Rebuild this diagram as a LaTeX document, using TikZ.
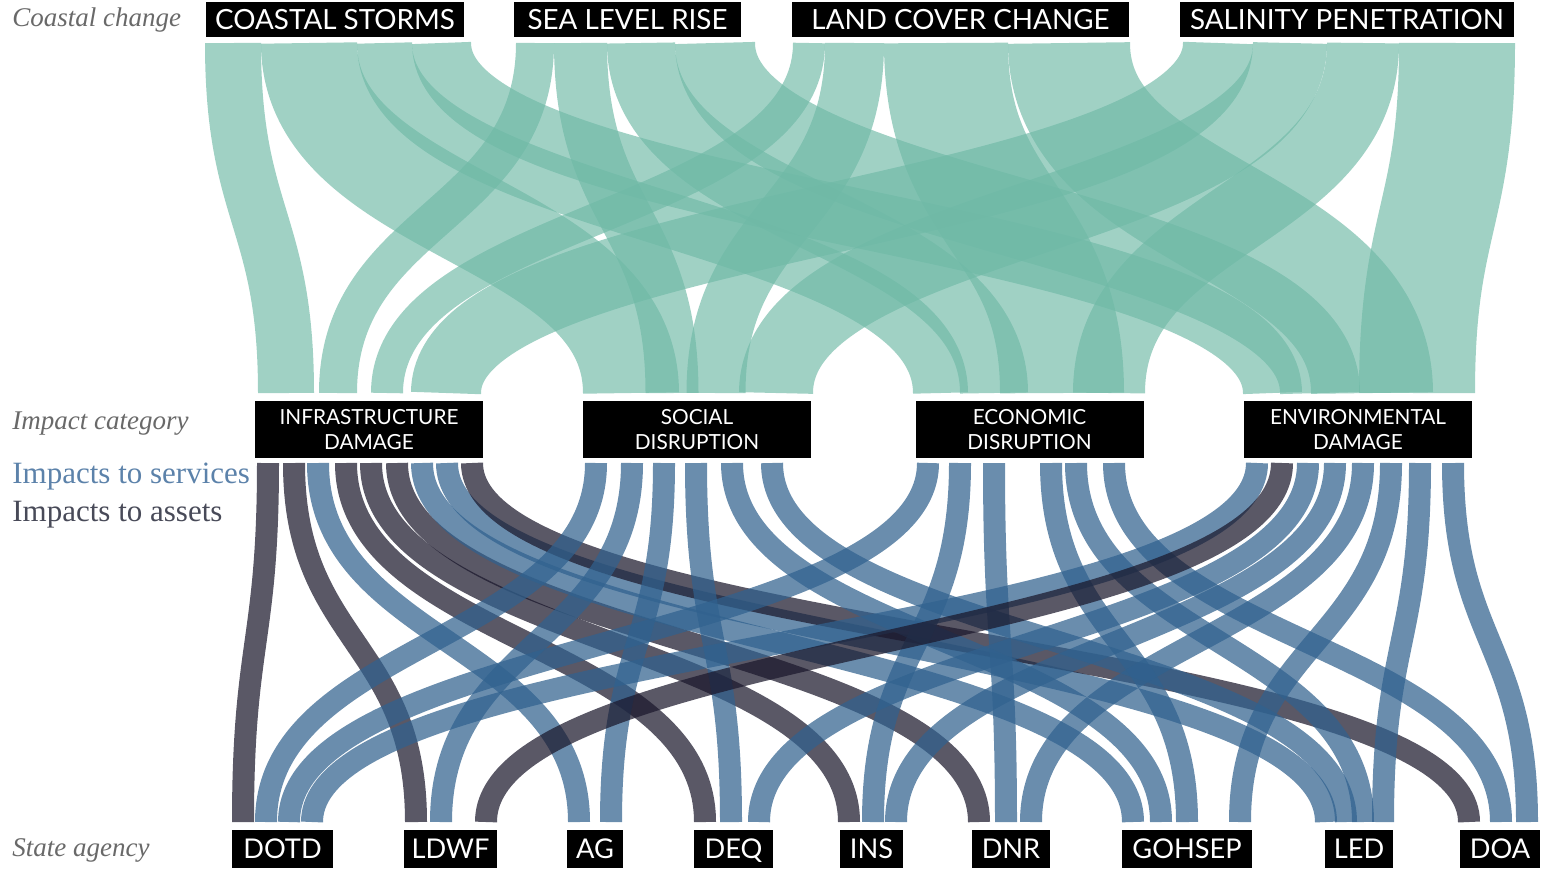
\documentclass[tikz,border=0pt]{standalone}
\usepackage{fontspec}
\setmainfont{Liberation Serif}
\newfontfamily\boxfont{Lato}
\definecolor{labgray}{RGB}{105,105,105}
\definecolor{svctext}{RGB}{92,130,170}
\definecolor{asttext}{RGB}{72,74,88}
\definecolor{tealband}{RGB}{111,185,166}
\definecolor{svcblue}{RGB}{48,97,142}
\definecolor{astdark}{RGB}{26,23,43}
\tikzset{
  sidelab/.style={anchor=west, inner sep=0pt, text=labgray, font=\itshape\fontsize{13.5}{16}\selectfont},
  topbox/.style={fill=black, text=white, inner sep=0pt, minimum height=17.5pt, text height=10pt, text depth=0pt, font=\boxfont\fontsize{13.9}{16}\selectfont},
  impbox/.style={fill=black, text=white, inner sep=0pt, minimum height=28.5pt, minimum width=114pt, align=center, font=\boxfont\fontsize{10.4}{12.5}\selectfont},
  agbox/.style={fill=black, text=white, inner sep=0pt, minimum height=19pt, text height=9.8pt, text depth=0pt, font=\boxfont\fontsize{13.6}{16}\selectfont},
  flow/.style={draw=tealband, draw opacity=0.66},
  svc/.style={draw=svcblue, draw opacity=0.72, line width=11pt},
  ast/.style={draw=astdark, draw opacity=0.72, line width=11pt}
}
\begin{document}
\begin{tikzpicture}[x=0.5pt,y=-0.5pt]
\useasboundingbox (0,0) rectangle (1542,868);
% ---------- teal flows: coastal change -> impact category (top centre / bottom centre / width px)
\foreach \s/\t/\w in {
  233/286/56, 309/631/96, 384.5/940.5/55, 441.5/1272.5/59,
  535/338/38, 580.5/672/53, 641/994/68, 715/1320/80,
  809/387/32, 854.5/716/59, 946/1062/124, 1069/1372/122,
  1218/446/70, 1290/776/74, 1363/1109/72, 1457/1417/116}
  \draw[flow, line width=\w*0.5pt] (\s,43) .. controls (\s,218) and (\t,218) .. (\t,393);
% ---------- impact category -> state agency
\foreach \s/\t/\k in {
  268/243/ast, 294/416/ast, 318/579/svc, 346/705/ast, 371/849/ast, 397/979/ast,
  422/1133/svc, 447/1326/svc, 472/1469/ast,
  596/266/svc, 632/441/svc, 664/611/svc, 696/731/svc, 732/1161/svc, 772/1346/svc,
  928/289/svc, 960/873/svc, 994/1006/svc, 1051/1187/svc, 1076/1363/svc, 1114/1501/svc,
  1257/312/svc, 1282/486/ast, 1308/759/svc, 1335/896/svc, 1363/1031/svc,
  1391/1240/svc, 1420/1383/svc, 1453/1527/svc}
  \draw[\k] (\s,463) .. controls (\s,642) and (\t,642) .. (\t,822);
% ---------- side labels
\node[sidelab] (lcoast) at (12,20) {Coastal change};
\node[sidelab] (limpact) at (12,424) {Impact category};
\node[anchor=west, inner sep=0pt, text=svctext, font=\fontsize{15.5}{18}\selectfont] (lserv) at (12,477) {Impacts to services};
\node[anchor=west, inner sep=0pt, text=asttext, font=\fontsize{15.5}{18}\selectfont] (lasset) at (12,515) {Impacts to assets};
\node[sidelab] (lstate) at (12,850) {State agency};
% ---------- top boxes
\node[topbox, minimum width=129pt] (storms) at (335,19.5) {COASTAL STORMS};
\node[topbox, minimum width=113.5pt] (sea) at (627.5,19.5) {SEA LEVEL RISE};
\node[topbox, minimum width=168.5pt] (land) at (960.5,19.5) {LAND COVER CHANGE};
\node[topbox, minimum width=167pt] (salin) at (1347,19.5) {SALINITY PENETRATION};
% ---------- impact boxes
\node[impbox] (infra) at (369,429.5) {INFRASTRUCTURE\\DAMAGE};
\node[impbox] (social) at (697,429.5) {SOCIAL\\DISRUPTION};
\node[impbox] (econ) at (1029.5,429.5) {ECONOMIC\\DISRUPTION};
\node[impbox] (env) at (1358,429.5) {ENVIRONMENTAL\\DAMAGE};
% ---------- agency boxes
\node[agbox, minimum width=50.5pt] (dotd) at (282.5,849) {DOTD};
\node[agbox, minimum width=46.5pt] (ldwf) at (450.5,849) {LDWF};
\node[agbox, minimum width=28pt] (ag) at (595,849) {AG};
\node[agbox, minimum width=39.5pt] (deq) at (733.5,849) {DEQ};
\node[agbox, minimum width=31.5pt] (ins) at (871.5,849) {INS};
\node[agbox, minimum width=39pt] (dnr) at (1011,849) {DNR};
\node[agbox, minimum width=65pt] (gohsep) at (1187,849) {GOHSEP};
\node[agbox, minimum width=34pt] (led) at (1359,849) {LED};
\node[agbox, minimum width=40pt] (doa) at (1500,849) {DOA};
\end{tikzpicture}
\end{document}
